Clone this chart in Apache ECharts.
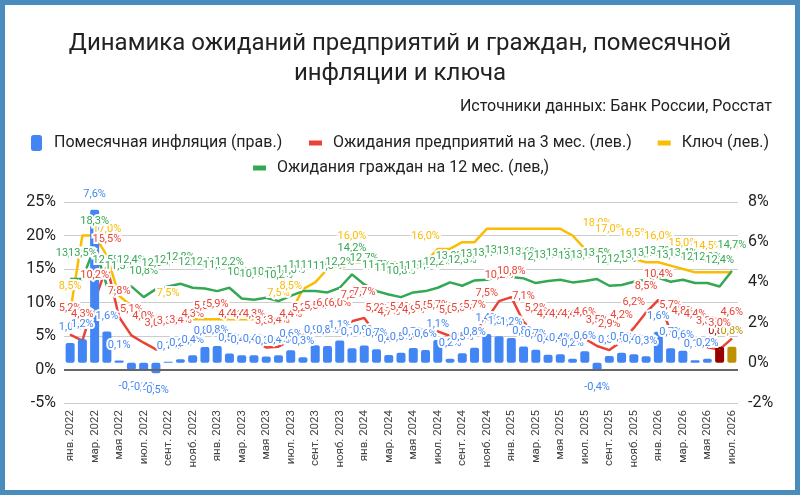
<!DOCTYPE html>
<html>
<head>
<meta charset="utf-8">
<script src="https://cdn.jsdelivr.net/npm/echarts@6/dist/echarts.min.js"></script>
<style>
  html, body { margin: 0; padding: 0; background: #4a8cbd; }
  #chart { position: absolute; left: 5px; top: 5px; width: 790px; height: 485px; background: #fff; }
</style>
</head>
<body>
<div id="chart"></div>
<script>
// month labels (tick labels)
var monthNames = ['янв.', 'февр.', 'мар.', 'апр.', 'мая', 'июн.', 'июл.', 'авг.', 'сент.', 'окт.', 'нояб.', 'дек.'];
var years = [2022, 2023, 2024, 2025, 2026];
var lastMonthIndex = 6; // июл. 2026

var categories = [];
years.forEach(function (y) {
    monthNames.forEach(function (m, k) {
        if (y === 2026 && k > lastMonthIndex) return;
        categories.push(m + ' ' + y);
    });
});

// Помесячная инфляция, % (правая ось)
var inflation = [
    0.99, 1.17, 7.61, 1.56, 0.12, -0.35, -0.39, -0.52, 0.05, 0.18, 0.37, 0.78,
    0.84, 0.46, 0.37, 0.38, 0.31, 0.37, 0.63, 0.28, 0.87, 0.83, 1.11, 0.73,
    0.86, 0.68, 0.39, 0.50, 0.74, 0.64, 1.14, 0.20, 0.48, 0.75, 1.43, 1.32,
    1.23, 0.81, 0.65, 0.40, 0.43, 0.20, 0.57, -0.40, 0.34, 0.50, 0.42, 0.32,
    1.55, 0.73, 0.60, 0.13, 0.20, 0.80, 0.80
];
// Ожидания предприятий на 3 мес., %
var bizExpect = [
    5.2, 4.3, 10.2, 15.5, 7.8, 5.1, 4.0, 3.0, 3.3, 3.4, 4.3, 5.5,
    5.9, 4.4, 4.4, 4.3, 3.3, 3.4, 4.4, 5.2, 5.5, 6.0, 6.0, 7.2,
    7.7, 5.2, 4.7, 5.4, 4.9, 5.5, 5.7, 5.0, 5.3, 5.7, 7.5, 10.2,
    10.8, 7.1, 5.2, 4.4, 4.4, 4.4, 4.6, 3.5, 2.9, 4.2, 6.2, 8.5,
    10.4, 5.7, 4.8, 4.4, 3.3, 3.0, 4.6
];
// Ключевая ставка, %
var keyRate = [
    8.5, 20, 20, 17, 11, 9.5, 8, 8, 7.5, 7.5, 7.5, 7.5,
    7.5, 7.5, 7.5, 7.5, 7.5, 7.5, 8.5, 12, 13, 15, 15, 16,
    16, 16, 16, 16, 16, 16, 18, 18, 19, 19, 21, 21,
    21, 21, 21, 21, 21, 20, 18, 18, 17, 16.5, 16.5, 16,
    16, 15.5, 15, 14.5, 14.5, 14.5, 14.5
];
// points of the key rate that carry a label
var keyLabelIdx = [0, 3, 8, 17, 18, 23, 29, 43, 44, 46, 48, 50, 52, 54];
// Ожидания граждан на 12 мес., %
var hhExpect = [
    13.5, 13.5, 18.3, 12.5, 11.5, 12.4, 10.8, 12.0, 12.4, 12.8, 12.2, 12.1,
    11.7, 12.2, 10.6, 10.4, 10.7, 10.2, 11.0, 11.7, 11.7, 11.5, 12.2, 14.2,
    12.7, 11.7, 11.2, 10.8, 11.5, 11.7, 12.2, 13.0, 12.5, 13.3, 13.4, 13.9,
    13.8, 13.6, 12.9, 13.2, 13.4, 13.0, 13.2, 13.5, 12.5, 12.6, 13.1, 13.4,
    13.7, 13.1, 13.4, 12.9, 12.9, 12.4, 14.7
];

var BLUE = '#4285f4', RED = '#ea4335', YELLOW = '#fbbc04', GREEN = '#34a853';
var FONT = 'Roboto';

function pct(v) {
    return v.toFixed(1).replace('.', ',') + '%';
}

var barData = inflation.map(function (v, i) {
    var item = { value: v };
    if (i === inflation.length - 2) {
        item.itemStyle = { color: '#990000' };
        item.label = { color: '#990000' };
    } else if (i === inflation.length - 1) {
        item.itemStyle = { color: '#bf9000' };
        item.label = { color: '#bf9000' };
    }
    if (v < 0) {
        item.label = Object.assign({}, item.label, { distance: 11 });
    }
    return item;
});

var keyLabelData = keyRate.map(function (v, i) {
    return keyLabelIdx.indexOf(i) >= 0 ? v : { value: v, label: { show: false } };
});

// visible line, drawn under the bars
function lineSeries(name, data, color, extra) {
    var s = {
        name: name,
        type: 'line',
        yAxisIndex: 0,
        z: 1,
        data: data,
        symbol: 'none',
        itemStyle: { color: color },
        lineStyle: { color: color, width: 2.5 }
    };
    return Object.assign(s, extra || {});
}

// labels of a line, drawn on top of everything
function labelSeries(name, data, color) {
    return {
        name: name,
        type: 'line',
        yAxisIndex: 0,
        z: 4,
        silent: true,
        data: data,
        symbol: 'circle',
        symbolSize: 1,
        itemStyle: { color: color },
        lineStyle: { width: 0, opacity: 0 },
        label: {
            show: true,
            position: 'top',
            distance: 20,
            color: color,
            fontFamily: FONT,
            fontSize: 11,
            textBorderColor: '#fff',
            textBorderWidth: 4,
            formatter: function (p) { return pct(p.value); }
        }
    };
}

var chart = echarts.init(document.getElementById('chart'));

var legendText = { fontFamily: FONT, fontSize: 16, color: '#222' };

var option = {
    animation: false,
    backgroundColor: '#fff',
    textStyle: { fontFamily: FONT },
    title: [{
        text: 'Динамика ожиданий предприятий и граждан, помесячной\nинфляции и ключа',
        left: 'center',
        top: 19,
        textStyle: { fontFamily: FONT, fontSize: 24, fontWeight: 'normal', color: '#222', lineHeight: 30 }
    }, {
        text: 'Источники данных: Банк России, Росстат',
        right: 18,
        top: 89,
        textStyle: { fontFamily: FONT, fontSize: 16, fontWeight: 'normal', color: '#222' }
    }],
    legend: [{
        data: [{ name: 'Помесячная инфляция (прав.)', icon: 'roundRect' }],
        left: 21,
        top: 125,
        itemWidth: 11,
        itemHeight: 16,
        textStyle: Object.assign({ padding: [0, 0, 0, 7] }, legendText)
    }, {
        data: [
            { name: 'Ожидания предприятий на 3 мес. (лев.)', icon: 'rect' },
            { name: 'Ключ (лев.)', icon: 'rect' }
        ],
        left: 299,
        top: 125,
        itemWidth: 13,
        itemHeight: 5,
        itemGap: 26,
        textStyle: Object.assign({ padding: [0, 0, 0, 6] }, legendText)
    }, {
        data: [{ name: 'Ожидания граждан на 12 мес. (лев,)', icon: 'rect' }],
        left: 243,
        top: 150,
        itemWidth: 13,
        itemHeight: 5,
        textStyle: Object.assign({ padding: [0, 0, 0, 6] }, legendText)
    }],
    grid: { left: 59, right: 57, top: 197, bottom: 87, containLabel: false },
    xAxis: {
        type: 'category',
        data: categories,
        boundaryGap: true,
        axisLine: { show: false, onZero: false },
        axisTick: { show: false },
        splitLine: { show: false },
        axisLabel: {
            interval: 1,
            rotate: 90,
            margin: 7,
            fontFamily: FONT,
            fontSize: 11.5,
            color: '#444'
        }
    },
    yAxis: [{
        type: 'value',
        min: -5,
        max: 25,
        interval: 5,
        axisLine: { show: false },
        axisTick: { show: false },
        splitLine: { lineStyle: { color: '#cccccc', width: 1 } },
        axisLabel: {
            formatter: '{value}%',
            margin: 8,
            fontFamily: FONT,
            fontSize: 16,
            color: '#222'
        }
    }, {
        type: 'value',
        min: -2,
        max: 8,
        interval: 2,
        position: 'right',
        axisLine: { show: false },
        axisTick: { show: false },
        splitLine: { show: false },
        axisLabel: {
            formatter: '{value}%',
            margin: 10,
            fontFamily: FONT,
            fontSize: 16,
            color: '#222'
        }
    }],
    series: [
        {
            name: 'Помесячная инфляция (прав.)',
            type: 'bar',
            yAxisIndex: 1,
            z: 2,
            barWidth: 9,
            data: barData,
            itemStyle: { color: BLUE, borderRadius: 2 },
            label: {
                show: true,
                position: 'outside',
                distance: 10,
                color: BLUE,
                fontFamily: FONT,
                fontSize: 11,
                textBorderColor: '#fff',
                textBorderWidth: 4,
                formatter: function (p) { return pct(p.value); }
            }
        },
        lineSeries('Ожидания предприятий на 3 мес. (лев.)', bizExpect, RED, {
            markLine: {
                silent: true,
                symbol: 'none',
                label: { show: false },
                lineStyle: { color: '#666', width: 2, type: 'solid' },
                data: [{ yAxis: 0 }]
            }
        }),
        lineSeries('Ключ (лев.)', keyRate, YELLOW),
        lineSeries('Ожидания граждан на 12 мес. (лев,)', hhExpect, GREEN),
        labelSeries('labels-biz', bizExpect, RED),
        labelSeries('labels-key', keyLabelData, YELLOW),
        labelSeries('labels-hh', hhExpect, GREEN)
    ]
};

chart.setOption(option);
</script>
</body>
</html>
